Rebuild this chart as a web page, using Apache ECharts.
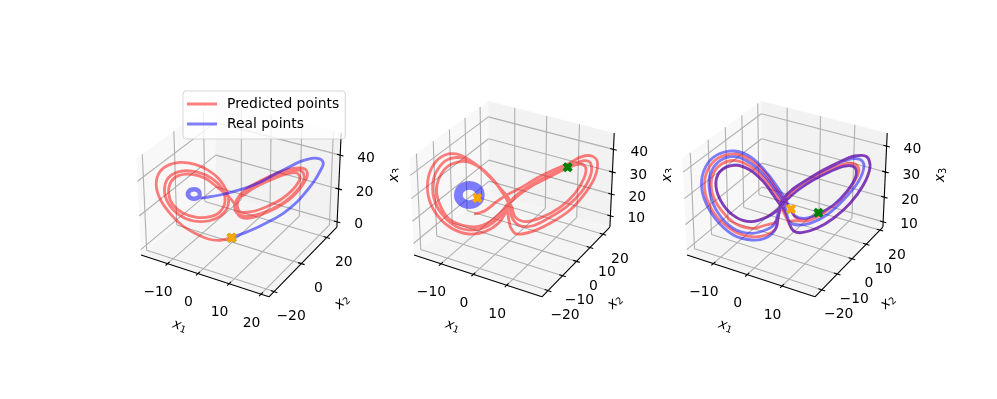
<!DOCTYPE html>
<html><head><meta charset="utf-8">
<style>html,body{margin:0;padding:0;background:#fff}#c{width:997px;height:399px}</style>
<script src="https://cdn.jsdelivr.net/npm/echarts@6/dist/echarts.min.js"></script>
</head><body><div id="c"></div>
<script>
const p1Pred=[[305,458],[270,466],[235,462],[195,445],[155,420],[120,385],[92,345],[79,305],[85,268],[110,243],[150,232],[195,238],[235,256],[268,283],[290,318],[296,350],[285,380],[255,402],[215,410],[170,402],[130,375],[107,338],[105,300],[122,272],[158,258],[205,262],[245,280],[277,312],[285,350],[270,380],[240,395],[200,397],[160,385],[128,358],[116,325],[122,292],[145,272],[185,268],[225,280],[260,305],[290,330],[305,345],[318,365],[325,390],[350,400],[395,388],[440,368],[480,342],[512,308],[532,272],[525,252],[490,250],[440,265],[390,288],[345,315],[320,345],[315,375],[335,392],[375,390],[420,375],[465,350],[500,318],[522,282],[515,258],[480,258],[430,275],[380,298],[340,325],[322,355],[330,380],[365,380],[410,365],[455,342],[490,312],[510,280],[500,264],[465,268],[415,288],[370,310],[335,335]];
const p1Real=[[305,458],[340,445],[380,428],[420,408],[460,385],[500,352],[530,318],[555,285],[572,255],[580,235],[570,222],[545,220],[510,230],[470,250],[430,270],[390,292],[350,308],[310,320],[270,330],[235,336],[213,338],[210,320],[202,312],[192,310],[182,312],[174,318],[171,327],[174,336],[182,342],[192,344],[202,342],[210,336],[207,327],[205,321],[200,317],[192,315],[184,317],[179,321],[177,327],[179,333],[184,337],[192,339],[200,337],[205,333]];
const p2Pred=[[222,372],[255,362],[290,335],[320,315],[360,295],[410,265],[460,240],[503,222],[545,200],[575,198],[592,215],[585,260],[555,310],[510,360],[450,400],[395,425],[350,432],[332,412],[325,380],[322,355],[328,330],[305,300],[270,262],[230,225],[180,195],[135,195],[100,225],[83,275],[88,330],[115,380],[155,415],[205,432],[255,425],[295,400],[318,365],[335,330],[370,300],[420,270],[470,245],[520,222],[555,212],[572,220],[572,255],[545,305],[500,350],[445,385],[395,408],[355,405],[335,380],[328,345],[310,312],[280,270],[240,232],[190,205],[145,208],[112,240],[98,285],[105,335],[132,380],[170,410],[215,420],[260,410],[295,385],[320,350],[350,320],[400,285],[450,258],[500,235],[540,222],[557,232],[552,265],[525,310],[480,352],[425,382],[375,395],[345,380],[335,350],[318,325],[290,282],[250,240],[200,215],[155,222],[125,250],[110,295],[118,340],[145,385],[185,405],[230,410],[270,395],[300,370],[325,340],[360,310],[410,280],[460,255],[503,232]];
const p2Real=[[250,315],[245,334],[229,348],[208,353],[187,348],[171,334],[166,315],[171,296],[187,282],[208,277],[229,282],[245,296],[250,315],[245,332],[234,342],[226,343],[208,347],[190,343],[177,331],[172,315],[177,299],[190,287],[208,283],[226,287],[239,299],[244,315],[239,331],[230,337],[223,338],[208,341],[193,338],[182,328],[178,315],[182,302],[193,292],[208,289],[223,292],[234,302],[238,315],[234,328],[226,332],[220,332],[208,335],[196,332],[187,325],[184,315],[187,305],[196,298],[208,295],[220,298],[229,305],[232,315],[232,324]];
const p3Pred=[[333,357],[347,382],[380,390],[415,372],[462,345],[502,303],[527,260],[525,232],[493,228],[448,245],[398,270],[353,300],[320,330],[295,358],[262,380],[215,395],[170,383],[130,345],[108,290],[120,245],[165,226],[210,240],[250,275],[280,315],[300,345],[315,375],[325,392],[345,392],[385,392],[432,368],[480,330],[520,280],[537,240],[525,222],[490,222],[445,240],[395,265],[350,295],[315,328],[298,368],[288,395],[258,405],[215,415],[165,400],[122,358],[97,310],[97,258],[125,222],[168,212],[215,232],[255,268],[285,310],[308,345],[322,390],[340,422],[365,428],[410,415],[460,385],[510,340],[550,285],[570,232],[560,200],[525,198],[480,215],[430,240],[380,270],[335,300],[305,335],[295,380],[288,415],[258,435],[215,440],[165,425],[112,382],[80,325],[74,272],[90,228],[122,200],[168,192],[215,212],[258,252],[290,298],[312,330],[325,350]];
const p3Real=[[333,357],[345,378],[375,385],[415,372],[460,345],[500,305],[527,262],[525,233],[495,228],[450,245],[400,270],[355,300],[320,330],[295,358],[260,382],[215,395],[170,383],[130,345],[108,290],[120,245],[165,225],[210,240],[250,275],[280,315],[290,330],[315,365],[330,398],[350,405],[390,400],[440,375],[490,330],[535,275],[552,228],[540,208],[500,210],[450,232],[400,258],[350,290],[310,325],[295,365],[285,400],[262,418],[215,430],[160,415],[115,370],[90,310],[90,255],[120,212],[165,200],[215,222],[258,262],[290,305],[312,340],[325,390],[340,422],[365,428],[410,415],[460,385],[510,340],[550,285],[570,232],[560,200],[525,198],[480,215],[430,240],[380,270],[335,300],[305,335],[295,380],[285,420],[255,445],[215,450],[160,435],[105,385],[72,325],[65,270],[82,222],[115,193],[165,183],[215,203],[262,250],[295,295],[315,325],[325,345]];
const startPoints=[[305,458],[232,324],[333,357]];
const endPoints=[[305,458],[503,232],[415,368]];
const x1Ticks=[[-10,0,10,20],[-10,0,10],[-10,0,10]];
const x2Ticks=[[-20,0,20],[-20,-10,0,10,20],[-20,-10,0,10,20]];
const x3Ticks=[[0,20,40],[10,20,30,40],[10,20,30,40]];
const x1Lims=[[-18.95,22.45],[-18.5,20.3],[-17.97,19.2]];
const x2Lims=[[-23.6,28.4],[-24.1,25.5],[-24.3,22.2]];
const x3Lims=[[-3.24,52.7],[4.74,47.1],[7.85,45]];
const predName='Predicted points', realName='Real points';

const panels=[{l:130,t:85,w:273,h:260,cx:240.7},{l:400,t:90,w:273,h:250,cx:513.7},{l:680,t:90,w:317,h:250,cx:786.7}];
const CY=194.3,S=1231,FONT='DejaVu Sans',FS=13.9;
const pred=[p1Pred,p2Pred,p3Pred],real=[p1Real,p2Real,p3Real];

// matplotlib mplot3d view, elev 30, azim -60, box aspect 4:4:3
function view(u,v,w){
  const p=[u*1.1905,v*1.1905,w*0.8929],E=[4.925,-6.905,5.446];
  const d=[p[0]-E[0],p[1]-E[1],p[2]-E[2]];
  const a=0.866*d[0]+0.5*d[1];
  const b=-0.25*d[0]+0.433*d[1]+0.866*d[2];
  const c=0.433*d[0]-0.75*d[1]+0.5*d[2];
  return [a/-c,b/-c];
}
function frac(v,l){return (v-l[0])/(l[1]-l[0]);}

const grids=[],xAxes=[],yAxes=[],series=[];
panels.forEach((P,i)=>{
  grids.push({left:P.l,top:P.t,width:P.w,height:P.h,containLabel:false});
  xAxes.push({type:'value',gridIndex:i,min:0,max:P.w*3,show:false});
  yAxes.push({type:'value',gridIndex:i,min:0,max:P.h*3,inverse:true,show:false});
  const pt=(u,v,w)=>{const q=view(u,v,w);return [(P.cx+S*q[0]-P.l)*3,(CY-S*q[1]-P.t)*3];};
  const off=(p,dx,dy)=>[p[0]+dx*3,p[1]+dy*3];
  const base={xAxisIndex:i,yAxisIndex:i,silent:true,animation:false};

  const panes=[
    {c:'rgba(242,242,242,0.5)',pts:[pt(0,0,0),pt(0,1,0),pt(0,1,1),pt(0,0,1)]},
    {c:'rgba(230,230,230,0.5)',pts:[pt(0,1,0),pt(1,1,0),pt(1,1,1),pt(0,1,1)]},
    {c:'rgba(236,236,236,0.5)',pts:[pt(0,0,0),pt(1,0,0),pt(1,1,0),pt(0,1,0)]}
  ];
  series.push(Object.assign({},base,{type:'custom',z:1,data:panes.map((_,k)=>[k]),
    renderItem:(p,api)=>{const k=api.value(0);return {type:'polygon',shape:{points:panes[k].pts.map(a=>api.coord(a))},style:{fill:panes[k].c}};}}));

  const gridSegs=[];
  x1Ticks[i].forEach(t=>{const u=frac(t,x1Lims[i]);gridSegs.push([pt(u,0,0),pt(u,1,0)],[pt(u,1,0),pt(u,1,1)]);});
  x2Ticks[i].forEach(t=>{const v=frac(t,x2Lims[i]);gridSegs.push([pt(1,v,0),pt(0,v,0)],[pt(0,v,0),pt(0,v,1)]);});
  x3Ticks[i].forEach(t=>{const w=frac(t,x3Lims[i]);gridSegs.push([pt(0,0,w),pt(0,1,w)],[pt(0,1,w),pt(1,1,w)]);});
  const segSeries=(segs,color,width,z)=>Object.assign({},base,{type:'custom',z,data:segs.map((_,k)=>[k]),
    renderItem:(p,api)=>{const s=segs[api.value(0)],a=api.coord(s[0]),b=api.coord(s[1]);
      return {type:'line',shape:{x1:a[0],y1:a[1],x2:b[0],y2:b[1]},style:{stroke:color,lineWidth:width,fill:null}};}});
  series.push(segSeries(gridSegs,'#b0b0b0',1.1,2));

  const axisSegs=[[pt(0,0,0),pt(1,0,0)],[pt(1,0,0),pt(1,1,0)],[pt(1,1,0),pt(1,1,1)]];
  const texts=[];
  const T=0.025;
  x1Ticks[i].forEach(t=>{const u=frac(t,x1Lims[i]);axisSegs.push([pt(u,-T,0),pt(u,T,0)]);
    texts.push({p:off(pt(u,0,0),-9.5,29),s:String(t).replace('-','\u2212'),a:'center'});});
  x2Ticks[i].forEach(t=>{const v=frac(t,x2Lims[i]);axisSegs.push([pt(1+T,v,0),pt(1-T,v,0)]);
    texts.push({p:off(pt(1,v,0),17,25),s:String(t).replace('-','\u2212'),a:'center'});});
  x3Ticks[i].forEach(t=>{const w=frac(t,x3Lims[i]);axisSegs.push([pt(1+T,1,w),pt(1-T,1,w)]);
    const e=pt(1,1,w);texts.push({p:off(e,17,3),s:String(t),a:'left'});});
  series.push(segSeries(axisSegs,'#000',1.1,3));

  // one smooth curve through all of a series' read points, placed by the grid's scales
  const curve=(name,pts,color)=>Object.assign({},base,{type:'custom',name,z:4,clip:false,data:pts,encode:{x:0,y:1},
    itemStyle:{color,opacity:0.5},
    renderItem:(p,api)=>{ if(p.dataIndex!==0) return null;
      return {type:'polyline',shape:{points:pts.map(a=>api.coord(a)),smooth:0.34},
        style:{stroke:color,lineWidth:2.8,fill:null,opacity:0.5,lineJoin:'round'}};}});
  series.push(curve(predName,pred[i],'#ff0000'));
  series.push(curve(realName,real[i],'#0000ff'));

  const X='path://M2.5 0L5 2L7.5 0L10 2.5L8 5L10 7.5L7.5 10L5 8L2.5 10L0 7.5L2 5L0 2.5Z';
  series.push(Object.assign({},base,{type:'scatter',z:5,symbol:X,symbolSize:10,data:[endPoints[i]],itemStyle:{color:'#008000',opacity:1},clip:false}));
  series.push(Object.assign({},base,{type:'scatter',z:5,symbol:X,symbolSize:10,data:[startPoints[i]],itemStyle:{color:'#ffa500',opacity:1},clip:false}));

  const lab=(px,py,sub,rot)=>({p:[(P.cx+px-P.l)*3,(py-P.t)*3],s:'{i|x}{s|'+sub+'}',a:'center',r:rot});
  texts.push(lab(-61,326,'1',-18*Math.PI/180));
  texts.push(lab(101.3,302,'2',44*Math.PI/180));
  texts.push(lab(153.3,175,'3',Math.PI/2));
  series.push(Object.assign({},base,{type:'custom',z:6,data:texts.map((_,k)=>[k]),
    renderItem:(p,api)=>{const t=texts[api.value(0)],a=api.coord(t.p);
      return {type:'text',x:a[0],y:a[1],rotation:t.r||0,z2:10,style:{text:t.s,fill:'#000',fontFamily:FONT,fontSize:FS,align:t.a,verticalAlign:'middle',
        rich:{i:{fontFamily:FONT,fontStyle:'italic',fontSize:FS,fill:'#000',lineHeight:16},s:{fontFamily:FONT,fontSize:9.7,fill:'#000',verticalAlign:'bottom',lineHeight:14,padding:[5,0,0,0]}}}};}}));

  if(i<2){ // the next panel's background hides the end of this panel's x3 label
    const c=[[(P.cx+157.8-P.l)*3,(160-P.t)*3],[(P.cx+166-P.l)*3,(190-P.t)*3]];
    series.push(Object.assign({},base,{type:'custom',z:7,data:[[0]],
      renderItem:(p,api)=>{const a=api.coord(c[0]),b=api.coord(c[1]);return {type:'rect',z2:20,shape:{x:a[0],y:a[1],width:b[0]-a[0],height:b[1]-a[1]},style:{fill:'#fff'}};}}));
  }
});

const chart=echarts.init(document.getElementById('c'),null,{renderer:'canvas'});
chart.setOption({
  animation:false,backgroundColor:'#fff',
  legend:{show:true,data:[predName,realName],left:183,top:91,orient:'vertical',selectedMode:false,icon:'rect',symbolKeepAspect:false,itemWidth:30,itemHeight:3,itemGap:6,
    padding:[6,6,8,4],backgroundColor:'rgba(255,255,255,0.8)',borderColor:'rgba(204,204,204,0.8)',borderWidth:1,borderRadius:3,z:50,
    textStyle:{fontFamily:FONT,fontSize:FS,color:'#000',padding:[0,0,0,5],lineHeight:14}},
  grid:grids,xAxis:xAxes,yAxis:yAxes,series:series
});
</script></body></html>
